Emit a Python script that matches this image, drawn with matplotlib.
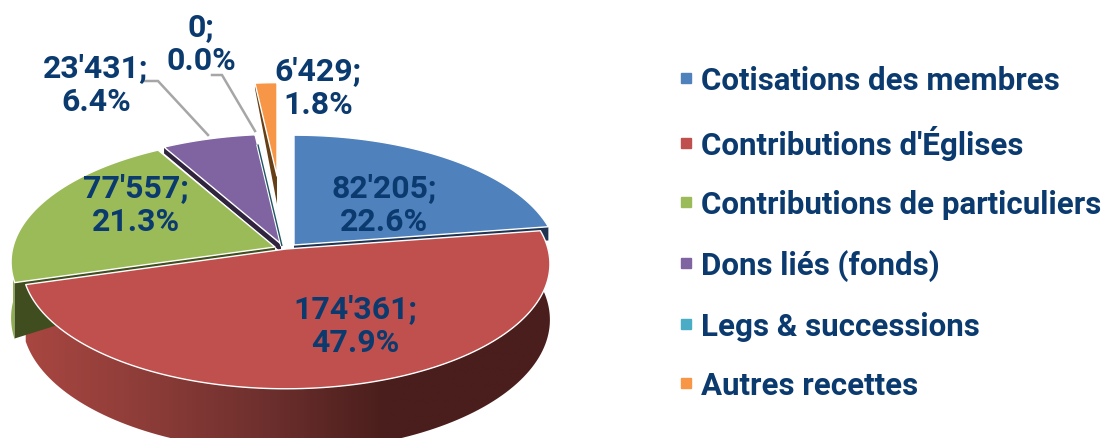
import numpy as np
import matplotlib
matplotlib.use("Agg")
from matplotlib import pyplot as plt
from matplotlib.lines import Line2D
from matplotlib.patches import Polygon

categories = ["Cotisations des membres", "Contributions d'Églises", "Contributions de particuliers",
              "Dons liés (fonds)", "Legs & successions", "Autres recettes"]
values = [82205, 174361, 77557, 23431, 0, 6429]
colors = ["#4F81BD", "#C0504D", "#9BBB59", "#8064A2", "#4BACC6", "#F79646"]
wall_colors = ["#1F3350", "#4A1E1C", "#3F4D1F", "#30243F", "#1E5563", "#663F17"]

# exploded layout of each slice, in pixels
centers = [(294, 246), (286, 250), (275, 248), (281, 245), (282, 247), (277, 177)]
scales = [1, 1, 1, 1, 0.93, 0.85]
cut_tip = [6, 0, 10, 8, 3, 28]
cut_rim = [14, 0, 54, 7, 3, 6]
label_pos = [(384, 205), (355, 326), (136, 205), (96, 85), (201, 44), (318, 88)]

RX, RY, PERSP, DEPTH = 262, 123, 0.12, 55
FONT = "Roboto"
NAVY = "#0B3A6F"


def project(i, theta, r=1.0, drop=0.0):
    cx, cy = centers[i]
    x = r * np.cos(theta)
    y = r * np.sin(theta)
    w = 1 + PERSP * y
    return cx + scales[i] * RX * x / w, cy - scales[i] * RY * y / w + drop / w


def arc(i, a0, a1, drop=0.0):
    t = np.linspace(a0, a1, 120)
    return np.column_stack(project(i, t, 1.0, drop))


def top_face(i, a0, a1):
    pts = np.vstack([[project(i, a0, 0.0)], arc(i, a0, a1)])
    ax.fill(pts[:, 0], pts[:, 1], facecolor=colors[i], edgecolor="white", lw=1.0, joinstyle="round")


def cut_face(i, a):
    pts = [project(i, a, 0.0), project(i, a, 1.0),
           project(i, a, 1.0, cut_rim[i]), project(i, a, 0.0, cut_tip[i])]
    ax.add_patch(Polygon(pts, closed=True, facecolor=wall_colors[i], edgecolor="none"))


fig = plt.figure(figsize=(11.05, 4.39), dpi=100)
ax = fig.add_axes([0, 0, 1, 1])

total = sum(values)
fracs = np.array(values) / total
ends = np.pi / 2 - 2 * np.pi * np.cumsum(fracs)
starts = np.concatenate([[np.pi / 2], ends[:-1]])

# back to front: orange, purple, zero slice, green, blue, red
cut_face(5, starts[5])
top_face(5, starts[5], ends[5])

cut_face(3, starts[3])
top_face(3, starts[3], ends[3])

zx, zy = project(4, starts[4], np.array([0.0, 1.0]))
ax.plot(zx, zy, color="white", lw=2.6, solid_capstyle="butt")
ax.plot(zx, zy, color=wall_colors[4], lw=1.0, solid_capstyle="butt")

rim = arc(2, starts[2], -np.pi)
pts = np.vstack([rim, arc(2, -np.pi, starts[2], DEPTH)])
ax.fill(pts[:, 0], pts[:, 1], color="#8FAC52", lw=0)
cut_face(2, starts[2])
top_face(2, starts[2], ends[2])

cut_face(0, ends[0])
top_face(0, starts[0], ends[0])

# red outer wall with the horizontal shading
outer = np.vstack([arc(1, starts[1], ends[1]), arc(1, ends[1], starts[1], DEPTH)])
wall = Polygon(outer, closed=True, facecolor="none", edgecolor="none")
ax.add_patch(wall)
stops_x = [28, 150, 270, 385, 545]
stops_rgb = np.array([[168, 70, 65], [140, 60, 56], [108, 47, 45], [74, 30, 28], [74, 30, 28]]) / 255
grad_x = np.linspace(20, 555, 270)
grad = np.column_stack([np.interp(grad_x, stops_x, stops_rgb[:, c]) for c in range(3)])[None, :, :]
img = ax.imshow(grad, extent=(20, 555, 460, 230), aspect="auto", interpolation="bilinear")
img.set_clip_path(wall)
top_face(1, starts[1], ends[1])

# leader lines
leader_x = [[145, 158, 208], [212, 222, 255]]
leader_y = [[82, 82, 136], [76, 76, 132]]
for lx, ly in zip(leader_x, leader_y):
    ax.plot(lx, ly, color="#A6A6A6", lw=1.8, solid_joinstyle="miter")

for v, f, (tx, ty) in zip(values, fracs, label_pos):
    txt = f"{v:,}".replace(",", "'") + f";\n{f * 100:.1f}%"
    ax.text(tx, ty, txt, ha="center", va="center", fontsize=23, fontweight="bold",
            family=FONT, color=NAVY, linespacing=1.2)

handles = [Line2D([], [], linestyle="none", marker="s", markersize=7.5, color=c) for c in colors]
ax.legend(handles, categories, loc="upper left", bbox_to_anchor=(677.7 / 1105, 1 - 66 / 439),
          frameon=False, handlelength=0.5, handletextpad=0.25, borderpad=0, borderaxespad=0,
          labelspacing=0.95, labelcolor=NAVY,
          prop={"family": FONT, "weight": "bold", "size": 22.5})

ax.set_xlim(0, 1105)
ax.set_ylim(439, 0)
ax.axis("off")
fig.savefig("out.png", dpi=100, facecolor="white")
